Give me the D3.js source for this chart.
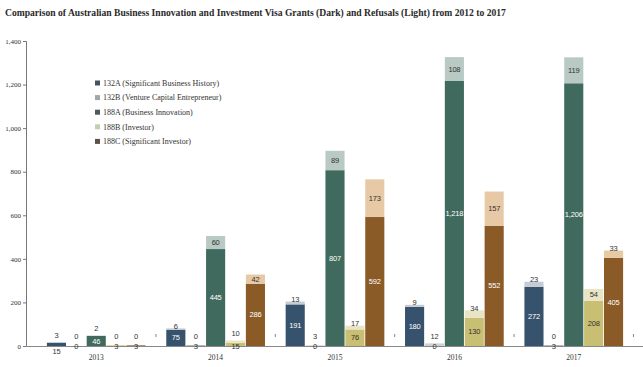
<!DOCTYPE html>
<html><head><meta charset="utf-8">
<script src="https://cdn.jsdelivr.net/npm/d3@7"></script>
<style>body{margin:0;background:#fff}svg{display:block}</style>
</head><body><svg id="c" width="643" height="367"></svg>
<script>
const years = ["2013","2014","2015","2016","2017"];
const visaTypes = ["132A","132B","188A","188B","188C"];
const legendLabels = ["132A (Significant Business History)","132B (Venture Capital Entrepreneur)","188A (Business Innovation)","188B (Investor)","188C (Significant Investor)"];
const grants132A = [15,75,191,180,272];
const refusals132A = [3,6,13,9,23];
const grants132B = [0,3,0,0,3];
const refusals132B = [0,0,3,12,0];
const grants188A = [46,445,807,1218,1206];
const refusals188A = [2,60,89,108,119];
const grants188B = [3,15,76,130,208];
const refusals188B = [0,10,17,34,54];
const grants188C = [3,286,592,552,405];
const refusals188C = [0,42,173,157,33];
const yTicks = [0,200,400,600,800,1000,1200,1400];
const title = "Comparison of Australian Business Innovation and Investment Visa Grants (Dark) and Refusals (Light) from 2012 to 2017";

const grants = {"132A":grants132A,"132B":grants132B,"188A":grants188A,"188B":grants188B,"188C":grants188C};
const refusals = {"132A":refusals132A,"132B":refusals132B,"188A":refusals188A,"188B":refusals188B,"188C":refusals188C};
const darkColor = {"132A":"#36526d","132B":"#8e9396","188A":"#3f6a5d","188B":"#c9bf72","188C":"#8a5a27"};
const lightColor = {"132A":"#c5ccd3","132B":"#cfd2d3","188A":"#b9c9c3","188B":"#e8e4c6","188C":"#e8c9a6"};
const legendColor = {"132A":"#465260","132B":"#a3a6a8","188A":"#4b5c56","188B":"#c6ceb0","188C":"#5e5247"};
const labelDark = {"132A":true,"132B":false,"188A":true,"188B":false,"188C":true};

const svg = d3.select("#c");
const serif = "'Liberation Serif','DejaVu Serif',serif";
const sans = "'Liberation Sans','DejaVu Sans',sans-serif";

const slots = ["pad"];
years.forEach(y => { visaTypes.forEach(t => slots.push(y+"|"+t)); slots.push(y+"|sep"); });
const x = d3.scaleBand().domain(slots).range([27,643]).paddingInner(0.04).paddingOuter(0);
const y = d3.scaleLinear().domain([0,1400]).range([346,41]);

svg.append("text").attr("x",5).attr("y",16).attr("font-family",serif).attr("font-weight","bold")
  .attr("font-size",9.6).attr("fill","#2a2a2a").text(title);

const ya = svg.append("g").attr("transform","translate(26,0)")
  .call(d3.axisLeft(y).tickValues(yTicks).tickSize(3).tickFormat(d3.format(",")));
ya.select(".domain").attr("stroke","#777");
ya.selectAll(".tick line").attr("stroke","#777");
ya.selectAll("text").attr("font-family",serif).attr("font-size",7).attr("fill","#333").attr("dx",1);

const data = [];
years.forEach((yr,i) => visaTypes.forEach(t => data.push({yr,t,g:grants[t][i],r:refusals[t][i]})));
const bw = x.bandwidth();
const gB = svg.append("g");
data.forEach(d => {
  const k = d.yr+"|"+d.t, x0 = x(k);
  gB.append("rect").attr("x",x0).attr("width",bw).attr("y",y(d.g)).attr("height",y(0)-y(d.g)).attr("fill",darkColor[d.t]);
  gB.append("rect").attr("x",x0).attr("width",bw).attr("y",y(d.g+d.r)).attr("height",y(d.g)-y(d.g+d.r)).attr("fill",lightColor[d.t]);
});

svg.append("line").attr("x1",27).attr("x2",643).attr("y1",y(0)+0.5).attr("y2",y(0)+0.5).attr("stroke","#888");

const fmt = d3.format(",");
const gL = svg.append("g").attr("font-family",sans).attr("font-size",7.5).attr("text-anchor","middle").attr("letter-spacing",-0.2);
data.forEach(d => {
  const cx = x(d.yr+"|"+d.t) + bw/2;
  const gh = y(0)-y(d.g);
  let gy, gcol;
  if (gh >= 10) { gy = (y(0)+y(d.g))/2; gcol = labelDark[d.t] ? "#fff" : "#333"; }
  else { gy = d.g >= 10 && d.r < 10 ? 351 : 346; gcol = "#333"; }
  gL.append("text").attr("x",cx).attr("y",gy).attr("dy","0.35em").attr("fill",gcol).text(fmt(d.g));
  const top = y(d.g+d.r);
  let ry;
  if (top > 330) ry = Math.min(top-7, 336);
  else if (y(d.g)-top >= 8) ry = (y(d.g)+top)/2;
  else ry = top - 2;
  gL.append("text").attr("x",cx).attr("y",ry).attr("dy","0.35em").attr("fill","#333").text(fmt(d.r));
});

years.forEach(yr => {
  const cx = x(yr+"|sep") + bw/2;
  svg.append("line").attr("x1",cx).attr("x2",cx).attr("y1",334).attr("y2",337).attr("stroke","#666").attr("stroke-width",0.8);
});

years.forEach(yr => {
  svg.append("text").attr("x",x(yr+"|188A")+bw/2).attr("y",360).attr("text-anchor","middle")
    .attr("font-family",serif).attr("font-size",7.5).attr("fill","#333").text(yr);
});

const lg = svg.append("g");
visaTypes.forEach((t,i) => {
  const yy = 83 + i*14.6;
  lg.append("rect").attr("x",95).attr("y",yy-2.5).attr("width",5).attr("height",5).attr("fill",legendColor[t]);
  lg.append("text").attr("x",103).attr("y",yy).attr("dy","0.35em").attr("font-family",serif)
    .attr("font-size",8).attr("fill","#333").text(legendLabels[i]);
});
</script></body></html>
